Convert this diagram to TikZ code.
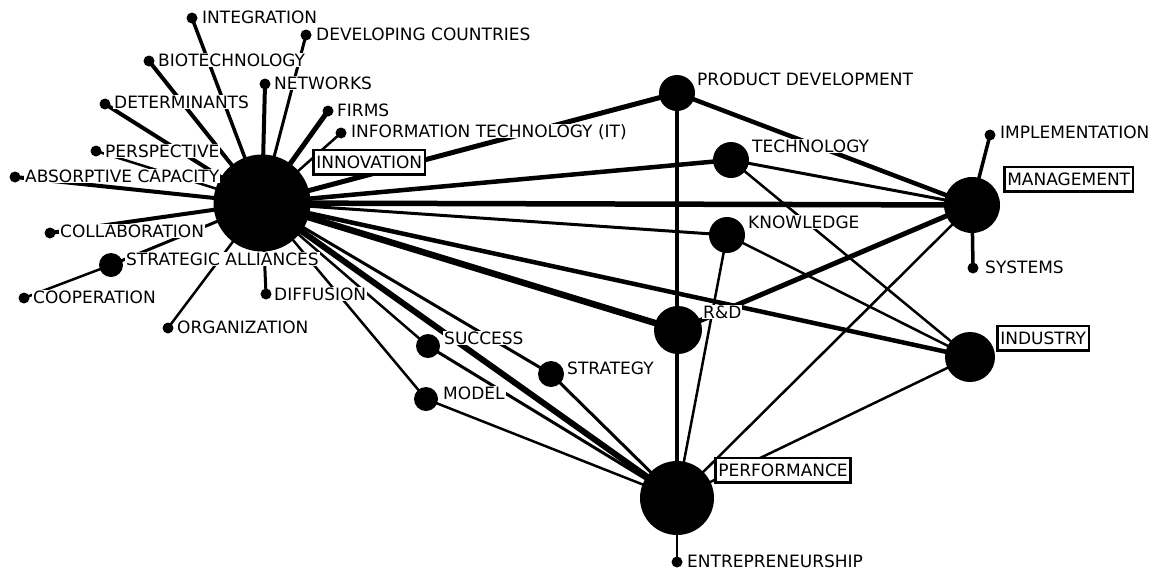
\documentclass[tikz,border=0pt]{standalone}
\usepackage{fontspec}
\setmainfont{DejaVu Sans}
\usetikzlibrary{backgrounds}
\begin{document}
\begin{tikzpicture}[x=1pt,y=-1pt,
  dot/.style={circle,fill=black,inner sep=0pt,minimum size=#1},
  lab/.style={fill=white,inner xsep=1pt,inner ysep=1pt,text height=12.4pt,text depth=0pt,anchor=west,font=\fontsize{17}{17}\selectfont},
  boxlab/.style={lab,draw=black,line width=2.6pt,inner xsep=3pt,inner ysep=6pt},
  e/.style={line width=#1,draw=black}]
\useasboundingbox (0,0) rectangle (1161,571);
% circles
\node[dot=97] (inn) at (262,203) {};
\node[dot=11] (integ) at (192,18) {};
\node[dot=11] (dev) at (306,35) {};
\node[dot=11] (bio) at (149,61) {};
\node[dot=11] (net) at (265,84) {};
\node[dot=11] (det) at (105,104) {};
\node[dot=11] (firms) at (328,111) {};
\node[dot=11] (it) at (341,133) {};
\node[dot=11] (persp) at (96,151) {};
\node[dot=11] (absorp) at (15,177) {};
\node[dot=11] (collab) at (50,233) {};
\node[dot=24] (sa) at (111,265) {};
\node[dot=11] (coop) at (24,298) {};
\node[dot=11] (diff) at (266,294) {};
\node[dot=11] (org) at (168,328) {};
\node[dot=36] (pd) at (677,93) {};
\node[dot=36] (tech) at (731,160) {};
\node[dot=36] (know) at (727,235) {};
\node[dot=48] (rd) at (678,330) {};
\node[dot=24] (succ) at (428,346) {};
\node[dot=26] (strat) at (551,374) {};
\node[dot=24] (model) at (426,399) {};
\node[dot=74] (perf) at (677,498) {};
\node[dot=11] (entr) at (677,562) {};
\node[dot=56] (mgmt) at (972,205) {};
\node[dot=11] (impl) at (990,135) {};
\node[dot=11] (sys) at (973,268) {};
\node[dot=50] (ind) at (970,357) {};
% edges
\begin{pgfonlayer}{background}
\draw[e=3.5] (inn.center) -- (integ.center);
\draw[e=3] (inn.center) -- (dev.center);
\draw[e=4] (inn.center) -- (bio.center);
\draw[e=4] (inn.center) -- (net.center);
\draw[e=4] (inn.center) -- (det.center);
\draw[e=5] (inn.center) -- (firms.center);
\draw[e=2.5] (inn.center) -- (it.center);
\draw[e=2.5] (inn.center) -- (persp.center);
\draw[e=4] (inn.center) -- (absorp.center);
\draw[e=4] (inn.center) -- (collab.center);
\draw[e=3] (inn.center) -- (sa.center);
\draw[e=3] (inn.center) -- (diff.center);
\draw[e=2.5] (inn.center) -- (org.center);
\draw[e=2.5] (coop.center) -- (sa.center);
\draw[e=5] (inn.center) -- (pd.center);
\draw[e=4.5] (inn.center) -- (tech.center);
\draw[e=5.5] (inn.center) -- (mgmt.center);
\draw[e=3] (inn.center) -- (know.center);
\draw[e=6.5] (inn.center) -- (rd.center);
\draw[e=4.5] (inn.center) -- (ind.center);
\draw[e=6] (inn.center) -- (perf.center);
\draw[e=2.5] (inn.center) -- (succ.center);
\draw[e=3] (inn.center) -- (strat.center);
\draw[e=2.5] (inn.center) -- (model.center);
\draw[e=4] (pd.center) -- (perf.center);
\draw[e=4.5] (pd.center) -- (mgmt.center);
\draw[e=3] (tech.center) -- (mgmt.center);
\draw[e=2.5] (tech.center) -- (ind.center);
\draw[e=2.5] (know.center) -- (ind.center);
\draw[e=2.5] (know.center) -- (perf.center);
\draw[e=5] (rd.center) -- (mgmt.center);
\draw[e=3.5] (mgmt.center) -- (impl.center);
\draw[e=3.5] (mgmt.center) -- (sys.center);
\draw[e=2.5] (mgmt.center) -- (perf.center);
\draw[e=2.5] (ind.center) -- (perf.center);
\draw[e=2.5] (perf.center) -- (entr.center);
\draw[e=3] (succ.center) -- (perf.center);
\draw[e=3] (strat.center) -- (perf.center);
\draw[e=2.5] (model.center) -- (perf.center);
\end{pgfonlayer}
% labels
\node[lab] (t-integ) at (201,17) {INTEGRATION};
\node[lab] (t-dev) at (315,34) {DEVELOPING COUNTRIES};
\node[lab] (t-bio) at (157,60) {BIOTECHNOLOGY};
\node[lab] (t-net) at (273,83) {NETWORKS};
\node[lab] (t-det) at (113,102) {DETERMINANTS};
\node[lab] (t-firms) at (336,110) {FIRMS};
\node[lab] (t-it) at (350,131) {INFORMATION TECHNOLOGY (IT)};
\node[lab] (t-persp) at (104,151) {PERSPECTIVE};
\node[lab] (t-absorp) at (24,176) {ABSORPTIVE CAPACITY};
\node[boxlab] (t-inn) at (312,162) {INNOVATION};
\node[lab] (t-collab) at (59,231) {COLLABORATION};
\node[lab] (t-sa) at (125,259) {STRATEGIC ALLIANCES};
\node[lab] (t-coop) at (32,297) {COOPERATION};
\node[lab] (t-diff) at (273,294) {DIFFUSION};
\node[lab] (t-org) at (176,327) {ORGANIZATION};
\node[lab] (t-pd) at (696,79) {PRODUCT DEVELOPMENT};
\node[lab] (t-tech) at (751,146) {TECHNOLOGY};
\node[lab] (t-know) at (747,222) {KNOWLEDGE};
\node[lab] (t-rd) at (702,312) {R\&D};
\node[lab] (t-succ) at (443,338) {SUCCESS};
\node[lab] (t-strat) at (566,368) {STRATEGY};
\node[lab] (t-model) at (442,393) {MODEL};
\node[boxlab] (t-perf) at (714,470) {PERFORMANCE};
\node[lab] (t-entr) at (686,561) {ENTREPRENEURSHIP};
\node[lab] (t-impl) at (999,132) {IMPLEMENTATION};
\node[boxlab] (t-mgmt) at (1003,179) {MANAGEMENT};
\node[lab] (t-sys) at (984,267) {SYSTEMS};
\node[boxlab] (t-ind) at (996,338) {INDUSTRY};
\end{tikzpicture}
\end{document}
